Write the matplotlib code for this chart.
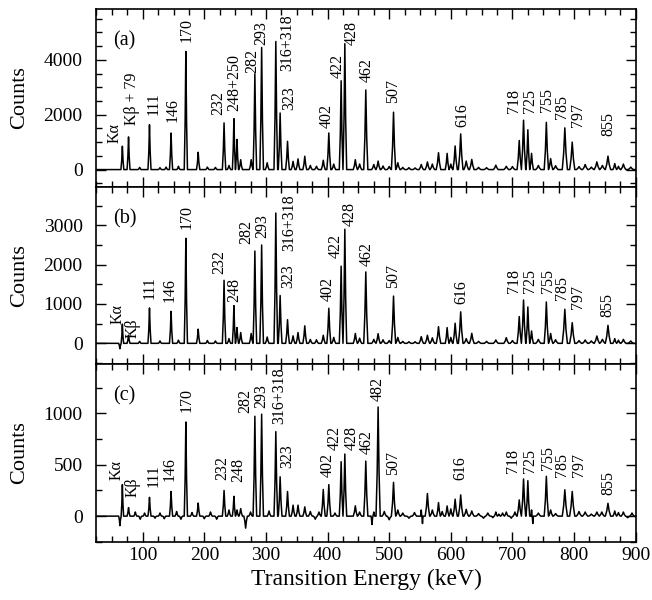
import matplotlib.pyplot as plt
from matplotlib.ticker import MultipleLocator

plt.rcParams['font.family'] = ['Liberation Serif', 'DejaVu Serif']

X_MIN, X_MAX = 25, 900

# gamma-ray lines (keV) seen in the three gated spectra
peak_energy = [67, 77, 111, 146, 170, 190, 232, 248, 253, 259, 282, 293, 316,
               323, 335, 344, 352, 363, 393, 402, 422, 428, 445, 462, 475,
               482, 507, 514, 552, 562, 580, 594, 607, 616, 625, 634, 673,
               690, 711, 718, 725, 731, 755, 762, 785, 797, 818, 837, 855,
               866, 880]

# peak heights (counts) per gate, same order as peak_energy
counts_a = [850, 1190, 1636, 1333, 4303, 630, 1700, 1854, 1100, 360, 3490,
            4448, 4666, 2060, 1030, 300, 390, 485, 340, 1333, 3235, 4588,
            360, 2900, 185, 310, 2090, 250, 185, 280, 615, 590, 860, 1300,
            310, 370, 160, 120, 1060, 1800, 1450, 590, 1720, 400, 1520,
            1000, 185, 280, 490, 220, 200]
counts_b = [487, 205, 898, 812, 2667, 360, 1600, 958, 400, 274, 2343, 2497,
            3309, 1214, 600, 190, 274, 445, 205, 890, 1958, 2898, 250, 1813,
            100, 245, 1200, 150, 170, 205, 423, 400, 510, 800, 120, 254, 85,
            144, 680, 1100, 923, 313, 1050, 250, 865, 525, 85, 186, 457,
            120, 100]
counts_c = [307, 83, 183, 240, 917, 127, 250, 193, 60, 73, 973, 993, 823,
            383, 240, 107, 107, 90, 260, 307, 530, 605, 100, 536, 40, 1063,
            329, 60, 60, 220, 132, 99, 165, 207, 66, 50, 40, 40, 158, 362,
            345, 60, 388, 60, 257, 240, 40, 40, 125, 50, 40]

# weak structure in the background between the main lines
bg_energy_a = [95, 128, 138, 158, 205, 218, 240, 276, 302, 372, 382, 410,
               452, 490, 500, 522, 532, 542, 570, 600, 645, 658, 700, 742,
               770, 808, 828, 846, 872, 892]
bg_counts_a = [80, 70, 90, 120, 90, 80, 150, 360, 250, 150, 120, 200, 200,
               130, 110, 80, 70, 60, 200, 200, 80, 70, 110, 150, 140, 110,
               90, 150, 120, 90]
bg_energy_b = [63, 95, 128, 158, 205, 218, 240, 276, 302, 372, 382, 410,
               452, 490, 500, 522, 532, 542, 570, 600, 645, 658, 700, 742,
               770, 808, 828, 846, 872, 892]
bg_counts_b = [-137, 50, 60, 80, 70, 60, 120, 250, 160, 100, 90, 150, 130,
               90, 70, 50, 40, 40, 140, 150, 50, 50, 70, 100, 90, 70, 60,
               100, 80, 60]
bg_energy_c = [63, 88, 96, 103, 120, 128, 135, 155, 162, 180, 200, 210, 220,
               240, 267, 275, 305, 372, 380, 386, 412, 452, 472, 492, 500,
               522, 532, 541, 554, 570, 586, 600, 645, 653, 660, 668, 678,
               684, 698, 704, 733, 742, 770, 808, 828, 845, 872, 887, 894]
bg_counts_c = [-93, 40, -30, 30, -20, 30, -25, 45, -30, 35, -25, 40, -30,
               60, -117, 40, 50, 45, -30, 40, 30, 40, -82, 45, -35, 30, -20,
               35, -72, 60, 45, 70, 25, -20, 30, -15, 20, 30, -20, 40, -72,
               30, 25, 45, 20, 40, 35, -15, 30]

# rotated line labels: text, energy, counts
labels_a = [("Kα", 55, 970), ("Kβ + 79", 82, 1640), ("111", 118, 2000),
            ("146", 148, 1720), ("170", 172, 4660), ("232", 223, 2000),
            ("248+250", 249, 2120), ("282", 278, 3515), ("293", 292, 4545),
            ("316+318", 335, 3575), ("323", 338, 2180), ("402", 398, 1515),
            ("422", 416, 3333), ("428", 440, 4545), ("462", 464, 3200),
            ("507", 507, 2410), ("616", 618, 1550), ("718", 703, 2070),
            ("725", 728, 2070), ("755", 756, 2090), ("785", 781, 1845),
            ("797", 806, 1540), ("855", 856, 1230)]
labels_b = [("Kα", 60, 487), ("Kβ", 84, 145), ("111", 112, 1128),
            ("146", 144, 1043), ("170", 171, 2907), ("232", 224, 1770),
            ("248", 248, 1043), ("282", 268, 2514), ("293", 294, 2685),
            ("316+318", 338, 2343), ("323", 336, 1402), ("402", 400, 1086),
            ("422", 414, 2172), ("428", 436, 2967), ("462", 464, 1965),
            ("507", 507, 1414), ("616", 617, 991), ("718", 703, 1270),
            ("725", 728, 1287), ("755", 757, 1287), ("785", 781, 1101),
            ("797", 807, 864), ("855", 854, 678)]
labels_c = [("Kα", 57, 350), ("Kβ", 83, 183), ("111", 117, 283),
            ("146", 144, 340), ("170", 171, 1017), ("232", 229, 350),
            ("248", 255, 333), ("282", 266, 1000), ("293", 292, 1050),
            ("316+318", 322, 900), ("323", 335, 467), ("402", 400, 383),
            ("422", 412, 641), ("428", 439, 641), ("462", 463, 608),
            ("482", 482, 1125), ("507", 507, 401), ("616", 615, 352),
            ("718", 701, 421), ("725", 728, 418), ("755", 757, 450),
            ("785", 780, 378), ("797", 808, 378), ("855", 856, 204)]


def spectrum_line(energy, counts):
    # narrow peak profile around each line, flat background in between
    offsets = [-1.0, -0.45, 0.0, 0.45, 1.0]
    fractions = [0.0, 0.4, 1.0, 0.4, 0.0]
    lines = sorted(zip(energy, counts))
    xs, ys = [X_MIN], [0.0]
    for i, (e, c) in enumerate(lines):
        w = 2.2 + 0.0025 * e
        if i > 0:
            w = min(w, 0.5 * (e - lines[i - 1][0]))
        if i < len(lines) - 1:
            w = min(w, 0.5 * (lines[i + 1][0] - e))
        for o, f in zip(offsets, fractions):
            xs.append(e + o * w)
            ys.append(f * c)
    xs.append(X_MAX)
    ys.append(0.0)
    return xs, ys


panels = [
    ("(a)", counts_a, bg_energy_a, bg_counts_a, labels_a, (-620, 5850), 2000, 500),
    ("(b)", counts_b, bg_energy_b, bg_counts_b, labels_b, (-530, 3980), 1000, 500),
    ("(c)", counts_c, bg_energy_c, bg_counts_c, labels_c, (-250, 1480), 500, 250),
]

fig, axes = plt.subplots(3, 1, figsize=(6.52, 6.0), dpi=100, sharex=True)
fig.subplots_adjust(left=0.148, right=0.975, top=0.985, bottom=0.097, hspace=0)

for ax, (tag, counts, bg_e, bg_c, labels, ylim, major, minor) in zip(axes, panels):
    xs, ys = spectrum_line(peak_energy + bg_e, counts + bg_c)
    ax.plot(xs, ys, color='black', lw=1.1)
    for text, x, y in labels:
        ax.text(x, y, text, rotation=90, ha='center', va='bottom', fontsize=11.5)
    ax.text(0.03, 0.82, tag, transform=ax.transAxes, fontsize=14.5, va='center')
    ax.set_xlim(X_MIN, X_MAX)
    ax.set_ylim(*ylim)
    ax.yaxis.set_major_locator(MultipleLocator(major))
    ax.yaxis.set_minor_locator(MultipleLocator(minor))
    ax.xaxis.set_major_locator(MultipleLocator(100))
    ax.xaxis.set_minor_locator(MultipleLocator(25))
    ax.tick_params(which='both', direction='in', top=True, right=True, labelsize=14)
    ax.tick_params(which='major', length=7, width=1)
    ax.tick_params(which='minor', length=4, width=1)
    ax.tick_params(axis='y', pad=10)
    ax.set_ylabel('Counts', fontsize=16)
    ax.yaxis.set_label_coords(-0.125, 0.5)
    for s in ax.spines.values():
        s.set_linewidth(1.2)

axes[-1].set_xlabel('Transition Energy (keV)', fontsize=17)

plt.savefig('out.png', dpi=100)
